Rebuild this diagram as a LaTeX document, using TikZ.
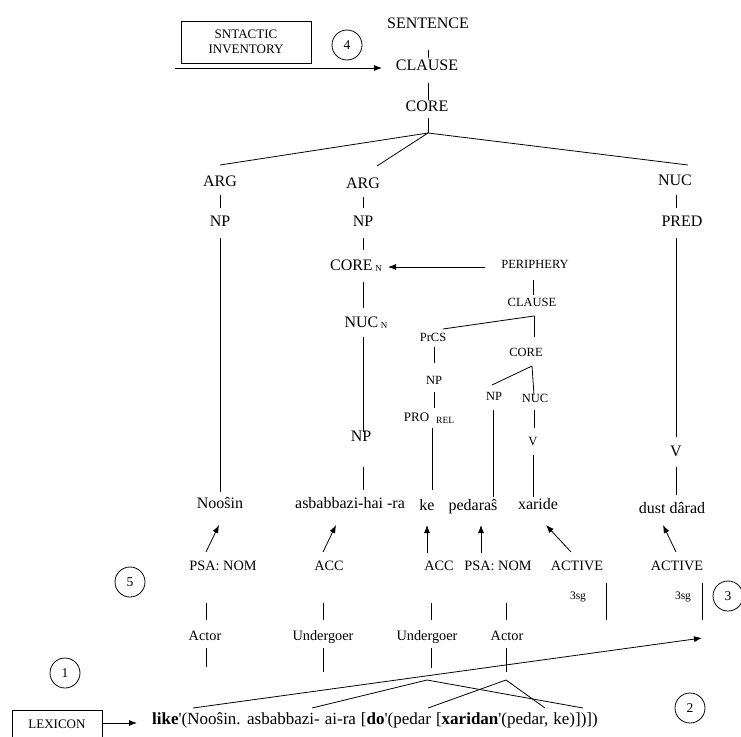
\documentclass[tikz,border=0pt]{standalone}
\usepackage{fontspec}
\setmainfont{Liberation Serif}
\usetikzlibrary{arrows.meta}
\tikzset{
  big/.style={inner sep=0pt, text height=10.5pt, text depth=3pt, font=\fontsize{16}{18}\selectfont},
  lab/.style={inner sep=0pt, text height=10pt, text depth=3pt, font=\fontsize{14.3}{17}\selectfont},
  sml/.style={inner sep=0pt, text height=8.5pt, text depth=2.5pt, font=\fontsize{12.5}{14}\selectfont},
  ln/.style={line width=0.8pt},
  arr/.style={line width=0.8pt, -{Latex[length=8pt,width=6pt]}},
  num/.style={circle, draw, line width=0.8pt, minimum size=30pt, inner sep=0pt, font=\fontsize{13.5}{13.5}\selectfont},
  boxlab/.style={draw, line width=0.8pt, inner sep=0pt, align=center, font=\fontsize{13}{14.5}\selectfont}
}
\begin{document}
\begin{tikzpicture}[x=1pt, y=-1pt]
\useasboundingbox (0,0) rectangle (741,736);
% top
\node[big] (sentence) at (428,25) {SENTENCE};
\node[big] (clause) at (427,67) {CLAUSE};
\node[big] (core) at (427,108) {CORE};
\node[boxlab, minimum width=130pt, minimum height=42pt] (inv) at (246,42) {SNTACTIC\\INVENTORY};
\node[num] (c4) at (347,45) {4};
\coordinate (invs) at (175,68);
\draw[arr] (invs) -- ([shift={(-45,1)}]clause.center);
\draw[ln] ([shift={(0,25)}]sentence.center) -- ([shift={(1,-9)}]clause.center);
\draw[ln] ([shift={(1,16)}]clause.center) -- ([shift={(1,-8)}]core.center);
\coordinate (cb) at (428,133);
\draw[ln] ([shift={(1,10)}]core.center) -- (cb);
% level ARG / NUC
\node[big] (arg1) at (220,183) {ARG};
\node[big] (arg2) at (363,185) {ARG};
\node[big] (nuc) at (675,182) {NUC};
\draw[ln] (cb) -- ([shift={(0,-18)}]arg1.center);
\draw[ln] (cb) -- ([shift={(14,-19)}]arg2.center);
\draw[ln] (cb) -- ([shift={(13,-17)}]nuc.center);
% left branch
\node[big] (np1) at (220,223) {NP};
\node[big] (noosin) at (220,505) {Noo\^{s}in};
\draw[ln] ([shift={(0,12)}]arg1.center) -- ([shift={(0,-15)}]np1.center);
\draw[ln] ([shift={(0,15)}]np1.center) -- ([shift={(0,-13)}]noosin.center);
% second branch
\node[big] (np2) at (363,223) {NP};
\node[big] (coren) at (356,267) {CORE\,\raisebox{-1pt}{\fontsize{9}{9}\selectfont N}};
\node[big] (nucn) at (366,324) {NUC\,\raisebox{-1pt}{\fontsize{9}{9}\selectfont N}};
\node[big] (np3) at (361,438) {NP};
\node[big] (asb) at (350,505) {asbabbazi-hai -ra};
\draw[ln] ([shift={(0,12)}]arg2.center) -- ([shift={(0,-15)}]np2.center);
\draw[ln] ([shift={(0,15)}]np2.center) -- ([shift={(7,-17)}]coren.center);
\draw[ln] ([shift={(7,15)}]coren.center) -- ([shift={(-3,-16)}]nucn.center);
\draw[ln] ([shift={(-3,13)}]nucn.center) -- ([shift={(2,-6)}]np3.center);
\draw[ln] ([shift={(2,29)}]np3.center) -- ([shift={(13,-15)}]asb.center);
% periphery
\node[sml] (periph) at (535,265) {PERIPHERY};
\node[sml] (clause2) at (532,303) {CLAUSE};
\draw[arr] ([shift={(-50,2)}]periph.center) -- ([shift={(32,0)}]coren.center);
\draw[ln] ([shift={(-2,15)}]periph.center) -- ([shift={(1,-8)}]clause2.center);
\coordinate (cb2) at (534,316);
\node[sml] (prcs) at (433,338) {PrCS};
\node[sml] (core2) at (526,353) {CORE};
\draw[ln] (cb2) -- ([shift={(10,-9)}]prcs.center);
\draw[ln] (cb2) -- ([shift={(8,-16)}]core2.center);
\node[sml] (np4) at (434,381) {NP};
\node[inner sep=0pt, text height=10pt, text depth=3pt, font=\fontsize{13}{15}\selectfont] (pro) at (429,418) {PRO\hspace{7pt}\raisebox{-2pt}{\fontsize{9.5}{9.5}\selectfont REL}};
\node[big] (ke) at (427,507) {ke};
\draw[ln] ([shift={(1,9)}]prcs.center) -- ([shift={(0,-18)}]np4.center);
\draw[ln] ([shift={(0,11)}]np4.center) -- ([shift={(5,-10)}]pro.center);
\draw[ln] ([shift={(3,10)}]pro.center) -- ([shift={(5,-17)}]ke.center);
\coordinate (cb3) at (532,366);
\node[sml] (np5) at (494,397) {NP};
\node[sml] (nuc2) at (535,399) {NUC};
\node[sml] (v1) at (533,442) {V};
\node[big] (pedaras) at (473,507) {pedara\^{s}};
\node[big] (xaride) at (538,506) {xaride};
\draw[ln] (cb3) -- ([shift={(-2,-12)}]np5.center);
\draw[ln] (cb3) -- ([shift={(-1,-4)}]nuc2.center);
\draw[ln] ([shift={(-1,11)}]nuc2.center) -- ([shift={(1,-14)}]v1.center);
\draw[ln] ([shift={(0,13)}]v1.center) -- ([shift={(-5,-9)}]xaride.center);
\draw[ln] ([shift={(-1,13)}]np5.center) -- ([shift={(20,-10)}]pedaras.center);
% right branch
\node[big] (pred) at (682,223) {PRED};
\node[big] (v2) at (676,453) {V};
\node[big] (dust) at (672,510) {dust d\^{a}rad};
\draw[ln] ([shift={(1,13)}]nuc.center) -- ([shift={(-6,-15)}]pred.center);
\draw[ln] ([shift={(-6,15)}]pred.center) -- ([shift={(0,-16)}]v2.center);
\draw[ln] ([shift={(0,14)}]v2.center) -- ([shift={(4,-15)}]dust.center);
% case row
\node[lab] (psa1) at (223,567) {PSA: NOM};
\node[lab] (acc1) at (329,567) {ACC};
\node[lab] (acc2) at (439,567) {ACC};
\node[lab] (psa2) at (498,567) {PSA: NOM};
\node[lab] (act1) at (577,567) {ACTIVE};
\node[lab] (act2) at (677,567) {ACTIVE};
\draw[arr] ([shift={(-17,-15)}]psa1.center) -- ([shift={(-1,20)}]noosin.center);
\draw[arr] ([shift={(-6,-15)}]acc1.center) -- ([shift={(-14,20)}]asb.center);
\draw[arr] ([shift={(-12,-14)}]acc2.center) -- ([shift={(0,18)}]ke.center);
\draw[arr] ([shift={(-17,-14)}]psa2.center) -- ([shift={(8,18)}]pedaras.center);
\draw[arr] ([shift={(-6,-15)}]act1.center) -- ([shift={(8,19)}]xaride.center);
\draw[arr] ([shift={(-1,-15)}]act2.center) -- ([shift={(-9,15)}]dust.center);
% 3sg
\node[sml, font=\fontsize{11.5}{13}\selectfont] (sg1) at (578,596) {3sg};
\node[sml, font=\fontsize{11.5}{13}\selectfont] (sg2) at (683,596) {3sg};
\draw[ln] ([shift={(28,-13)}]sg1.center) -- ([shift={(28,24)}]sg1.center);
\draw[ln] ([shift={(19,-13)}]sg2.center) -- ([shift={(19,24)}]sg2.center);
\node[num] (c3) at (728,596) {3};
\node[num] (c5) at (130,582) {5};
% roles
\node[lab] (actor1) at (205,637) {Actor};
\node[lab] (und1) at (323,637) {Undergoer};
\node[lab] (und2) at (427,637) {Undergoer};
\node[lab] (actor2) at (507,637) {Actor};
\draw[ln] ([shift={(-17,36)}]psa1.center) -- ([shift={(1,-17)}]actor1.center);
\draw[ln] ([shift={(-6,36)}]acc1.center) -- ([shift={(0,-17)}]und1.center);
\draw[ln] ([shift={(-8,36)}]acc2.center) -- ([shift={(4,-17)}]und2.center);
\draw[ln] ([shift={(8,36)}]psa2.center) -- ([shift={(-1,-17)}]actor2.center);
\draw[ln] ([shift={(1,11)}]actor1.center) -- ([shift={(1,30)}]actor1.center);
\draw[ln] ([shift={(0,11)}]und1.center) -- ([shift={(0,35)}]und1.center);
\draw[ln] ([shift={(4,11)}]und2.center) -- ([shift={(4,31)}]und2.center);
\draw[ln] ([shift={(-1,11)}]actor2.center) -- ([shift={(-1,35)}]actor2.center);
% lexicon
\node[num] (c1) at (65,673) {1};
\node[num] (c2) at (690,708) {2};
\node[boxlab, minimum width=90pt, minimum height=28pt] (lexbox) at (57,724) {LEXICON};
\node[inner sep=0pt, text height=11pt, text depth=3.5pt, anchor=west, font=\fontsize{17}{19}\selectfont] (lex) at (152,721) {\spaceskip=5pt plus 1pt\textbf{like}\textquotesingle(Noo\^{s}in. asbabbazi- ai-ra [\textbf{do}\textquotesingle(pedar [\textbf{xaridan}\textquotesingle(pedar, ke)])])};
\draw[arr] ([shift={(0,-1)}]lexbox.east) -- ([shift={(-15,2)}]lex.west);
\draw[arr] ([shift={(41,-13)}]lex.west) -- ([shift={(19,42)}]sg2.center);
\draw[ln] ([shift={(160,-13)}]lex.west) -- ([shift={(275,-41)}]lex.west) -- ([shift={(431,-13)}]lex.west);
\draw[ln] ([shift={(276,-13)}]lex.west) -- ([shift={(354,-41)}]lex.west) -- ([shift={(393,-13)}]lex.west);
\end{tikzpicture}
\end{document}
